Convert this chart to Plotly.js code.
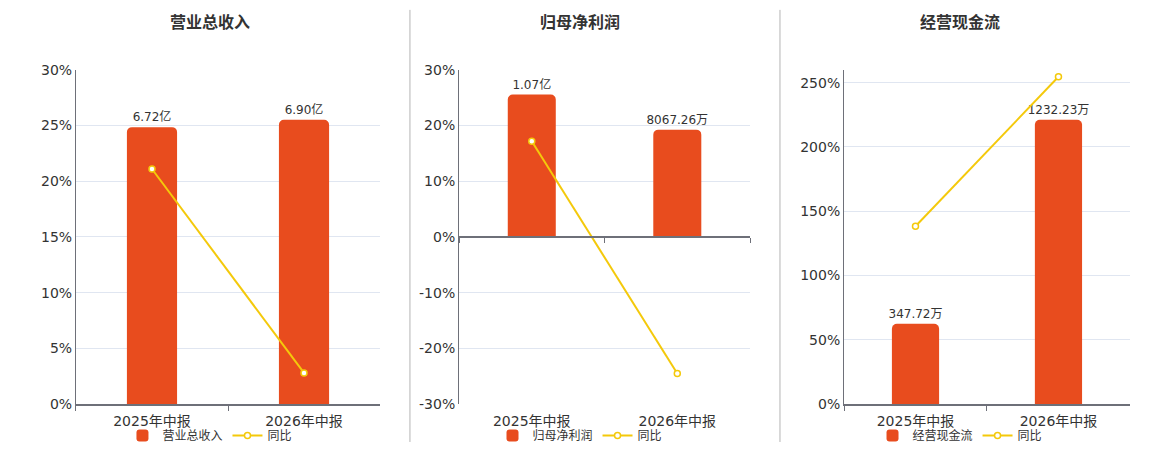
<!DOCTYPE html>
<html>
<head>
<meta charset="utf-8">
<script src="https://cdn.plot.ly/plotly-3.0.1.min.js"></script>
<style>
  html, body { margin: 0; padding: 0; background: #fff; }
  #plot { width: 1160px; height: 450px; }
</style>
</head>
<body>
<div id="plot"></div>
<script>
// Categories shared by the three panels
const periods = ['2025年中报', '2026年中报'];

// Panel titles / bar series names
const titles = ['营业总收入', '归母净利润', '经营现金流'];

// Bar values (营业总收入 in 亿, the other two in 万)
const revenue = [6.72, 6.90];
const revenueText = ['6.72亿', '6.90亿'];
const profit = [10700, 8067.26];
const profitText = ['1.07亿', '8067.26万'];
const cashflow = [347.72, 1232.23];
const cashflowText = ['347.72万', '1232.23万'];

// 同比 (%)
const revenueYoy = [21.1, 2.8];
const profitYoy = [17.2, -24.5];
const cashflowYoy = [138.4, 254.6];

// percent axis ticks
const ticks1 = [0, 5, 10, 15, 20, 25, 30];
const ticks2 = [-30, -20, -10, 0, 10, 20, 30];
const ticks3 = [0, 50, 100, 150, 200, 250, 260];

const BAR_COLOR = '#E84C1E';
const LINE_COLOR = '#F4C90B';
const AXIS_COLOR = '#6e7079';
const GRID_COLOR = '#e0e6f1';
const FONT = 'DejaVu Sans, "Noto Sans CJK SC", sans-serif';

// Helpers
const makeBar = (name, y, text, xa, ya, legend) => ({
  type: 'bar',
  name,
  x: periods,
  y,
  text,
  textposition: 'outside',
  textfont: { size: 12, color: '#333' },
  cliponaxis: false,
  width: 0.33,
  marker: { color: BAR_COLOR, cornerradius: 5 },
  xaxis: xa, yaxis: ya,
  legend,
  hoverinfo: 'none'
});

const makeLine = (y, xa, ya, legend) => ({
  type: 'scatter',
  mode: 'lines+markers',
  name: '同比',
  x: periods,
  y,
  line: { color: LINE_COLOR, width: 2 },
  marker: { symbol: 'circle', size: 6, color: '#fff', line: { color: LINE_COLOR, width: 1.5 } },
  cliponaxis: false,
  xaxis: xa, yaxis: ya,
  legend,
  hoverinfo: 'none'
});

const xAxisBase = (domain) => ({
  domain,
  type: 'category',
  range: [-0.5, 1.5],
  tickson: 'boundaries',
  ticks: 'outside',
  ticklen: 5,
  tickcolor: AXIS_COLOR,
  showline: true,
  linecolor: AXIS_COLOR,
  linewidth: 2,
  showgrid: false,
  zeroline: false,
  ticklabelstandoff: 3,
  tickfont: { size: 14, color: '#333' },
  fixedrange: true
});

const hiddenY = (anchor, range) => ({
  domain: [0.1, 0.8444],
  anchor,
  range,
  visible: false,
  fixedrange: true
});

// tick text written with a plain hyphen, as in the picture
const pctLabels = (vals, hideLast) =>
  vals.map((v, i) => (hideLast && i === vals.length - 1) ? '' : String(v).replace('−', '-') + '%');

const pctY = (anchor, overlaying, range, tickvals, hideLast, zero) => ({
  anchor,
  overlaying,
  side: 'left',
  range,
  tickmode: 'array',
  tickvals,
  ticktext: pctLabels(tickvals, hideLast),
  ticks: '',
  showline: true,
  linecolor: AXIS_COLOR,
  linewidth: 1,
  showgrid: true,
  gridcolor: GRID_COLOR,
  gridwidth: 1,
  zeroline: zero,
  zerolinecolor: AXIS_COLOR,
  zerolinewidth: 2,
  tickfont: { size: 14, color: '#333' },
  fixedrange: true
});

const legendAt = (x) => ({
  orientation: 'h',
  x, y: 0.031,
  xanchor: 'center', yanchor: 'middle',
  font: { size: 12, color: '#333', family: FONT },
  bgcolor: 'rgba(0,0,0,0)',
  itemwidth: 30,
  tracegroupgap: 0
});

const traces = [
  makeBar(titles[0], revenue, revenueText, 'x', 'y', 'legend'),
  makeLine(revenueYoy, 'x', 'y4', 'legend'),
  makeBar(titles[1], profit, profitText, 'x2', 'y2', 'legend2'),
  makeLine(profitYoy, 'x2', 'y5', 'legend2'),
  makeBar(titles[2], cashflow, cashflowText, 'x3', 'y3', 'legend3'),
  makeLine(cashflowYoy, 'x3', 'y6', 'legend3')
];

const titleAnn = (text, x) => ({
  text, x, y: 0.951, xref: 'paper', yref: 'paper',
  xanchor: 'center', yanchor: 'middle',
  showarrow: false,
  font: { size: 16, color: '#333', family: FONT, weight: 'bold' }
});

const divider = (x) => ({
  type: 'line', xref: 'paper', yref: 'paper',
  x0: x, x1: x, y0: 0.0156, y1: 0.978,
  line: { color: '#b4b4b4', width: 1 }
});

const layout = {
  width: 1160,
  height: 450,
  margin: { t: 0, b: 0, l: 0, r: 0 },
  paper_bgcolor: '#fff',
  plot_bgcolor: '#fff',
  font: { family: FONT, color: '#333' },
  hovermode: false,
  showlegend: true,
  barmode: 'group',
  uniformtext: { mode: false },

  xaxis: { ...xAxisBase([0.0655, 0.3276]), anchor: 'y' },
  xaxis2: { ...xAxisBase([0.3957, 0.6466]), anchor: 'free', position: 0.4718, ticklabelstandoff: 171 },
  xaxis3: { ...xAxisBase([0.7276, 0.9741]), anchor: 'y3' },

  yaxis: hiddenY('x', [0, 8.11]),
  yaxis2: hiddenY('x2', [-12560, 12560]),
  yaxis3: hiddenY('x3', [0, 1448]),

  yaxis4: pctY('x', 'y', [0, 30], ticks1, false, false),
  yaxis5: pctY('x2', 'y2', [-30, 30], ticks2, false, true),
  yaxis6: pctY('x3', 'y3', [0, 260], ticks3, true, false),

  legend: legendAt(0.181),
  legend2: legendAt(0.5),
  legend3: legendAt(0.8276),

  annotations: [
    titleAnn(titles[0], 0.181),
    titleAnn(titles[1], 0.5),
    titleAnn(titles[2], 0.8276)
  ],
  shapes: [divider(0.3534), divider(0.6724)]
};

traces.forEach(t => { if (t.type === 'bar') t.constraintext = 'none'; });

Plotly.newPlot('plot', traces, layout, { displayModeBar: false, staticPlot: true });
</script>
</body>
</html>
